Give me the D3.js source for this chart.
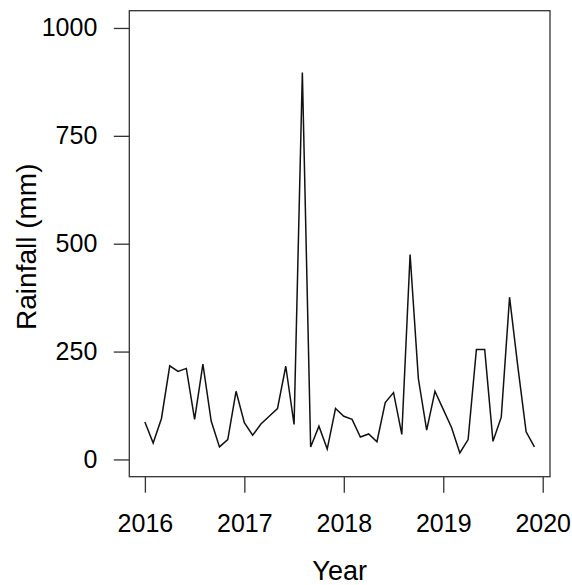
<!DOCTYPE html>
<html>
<head>
<meta charset="utf-8">
<script src="https://cdn.jsdelivr.net/npm/d3@7"></script>
<style>
  body { margin: 0; background: #fff; }
  text { font-family: "Liberation Sans", Arial, sans-serif; fill: #000; }
</style>
</head>
<body>
<div id="graf"></div>
<script>
// Datos: lluvia mensual (mm), ene 2016 - dic 2019
const startYear = 2016
const rainfall = [
  87, 38, 95, 217, 204, 211, 93, 221, 89, 29, 46, 158,
  85, 56, 82, 100, 118, 216, 81, 897, 29, 77, 24, 118,
  100, 93, 52, 59, 41, 132, 155, 58, 475, 187, 68, 158,
  116, 74, 15, 46, 255, 255, 42, 98, 376, 215, 64, 29
]
const xTicks = [2016, 2017, 2018, 2019, 2020]
const yTicks = [0, 250, 500, 750, 1000]

const data = rainfall.map((v, i) => ({ t: startYear + i / 12, v: v }))

// Dimensiones
const anchoTotal = 572
const altoTotal = 585
const box = { left: 129.3, right: 550, top: 10.7, bottom: 476.7 }

const svg = d3.select("#graf")
  .append("svg")
  .attr("width", anchoTotal)
  .attr("height", altoTotal)

// Escaladores (R pads the range by 4%)
const tMin = startYear, tMax = startYear + (rainfall.length - 1) / 12
const padX = (tMax - tMin) * 0.04
const x = d3.scaleLinear()
  .domain([tMin - padX, tMax + padX])
  .range([box.left, box.right])
const y = d3.scaleLinear()
  .domain([-40, 1040])
  .range([box.bottom, box.top])

// Línea
const line = d3.line().x(d => x(d.t)).y(d => y(d.v))
svg.append("path")
  .datum(data)
  .attr("d", line)
  .attr("fill", "none")
  .attr("stroke", "#111")
  .attr("stroke-width", 1.5)
  .attr("stroke-linejoin", "miter")

// Caja
svg.append("rect")
  .attr("x", box.left)
  .attr("y", box.top)
  .attr("width", box.right - box.left)
  .attr("height", box.bottom - box.top)
  .attr("fill", "none")
  .attr("stroke", "#333")
  .attr("stroke-width", 1.3)

// Ejes
const yAxis = d3.axisLeft(y).tickValues(yTicks).tickFormat(d3.format("d"))
  .tickSize(15.5).tickPadding(16.5)
const yAxisGroup = svg.append("g")
  .attr("transform", `translate(${box.left}, 0)`)
  .call(yAxis)

const xAxis = d3.axisBottom(x).tickValues(xTicks).tickFormat(d3.format("d"))
  .tickSize(16).tickPadding(21.5)
const xAxisGroup = svg.append("g")
  .attr("transform", `translate(0, ${box.bottom})`)
  .call(xAxis)

;[yAxisGroup, xAxisGroup].forEach(g => {
  g.select(".domain").remove()
  g.selectAll(".tick line").attr("stroke", "#333").attr("stroke-width", 1.3)
  g.selectAll(".tick text")
    .style("font-family", "'Liberation Sans', Arial, sans-serif")
    .style("font-size", "25px")
    .attr("fill", "#000")
})

// Títulos
svg.append("text")
  .attr("x", (box.left + box.right) / 2)
  .attr("y", 580)
  .attr("text-anchor", "middle")
  .style("font-size", "27px")
  .text("Year")

svg.append("text")
  .attr("transform", `translate(36, ${(box.top + box.bottom) / 2 + 3}) rotate(-90)`)
  .attr("text-anchor", "middle")
  .style("font-size", "28px")
  .text("Rainfall (mm)")
</script>
</body>
</html>
